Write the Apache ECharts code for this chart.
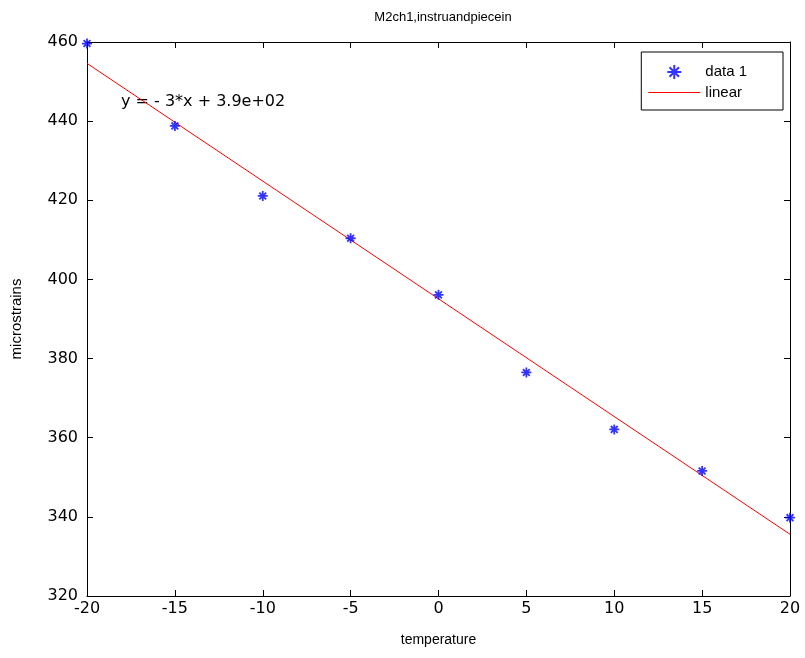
<!DOCTYPE html>
<html>
<head>
<meta charset="utf-8">
<script src="https://cdn.jsdelivr.net/npm/echarts@6/dist/echarts.min.js"></script>
<style>html,body{margin:0;padding:0;background:#fff}#c{width:805px;height:658px}</style>
</head>
<body>
<div id="c"></div>
<script>
var temperature = [-20, -15, -10, -5, 0, 5, 10, 15, 20];
var microstrains = [459.6, 438.8, 421.1, 410.4, 396.1, 376.5, 362.1, 351.6, 339.8];
var fitX = [-20, 20];
var fitY = [454.6, 335.6];
var xTicks = [-20, -15, -10, -5, 0, 5, 10, 15, 20];
var yTicks = [320, 340, 360, 380, 400, 420, 440, 460];
var titleText = 'M2ch1,instruandpiecein';
var eqText = 'y = - 3*x + 3.9e+02';

var FONT = '"Liberation Sans", Arial, sans-serif';
var NUMFONT = '"DejaVu Sans", sans-serif';
var star = 'path://M0 5L10 5M5 0L5 10M1.6 1.6L8.4 8.4M1.6 8.4L8.4 1.6';

var chart = echarts.init(document.getElementById('c'), null, {renderer: 'canvas'});
var axisCommon = {
  axisLine: {show: true, onZero: false, lineStyle: {color: '#000', width: 1}},
  axisTick: {show: true, inside: true, length: 6, lineStyle: {color: '#000'}},
  splitLine: {show: false}
};
function mk(o) { return Object.assign({}, axisCommon, o); }

chart.setOption({
  animation: false,
  backgroundColor: '#fff',
  title: {text: titleText, left: 438, textAlign: 'center', top: 6,
    textStyle: {fontFamily: FONT, fontSize: 13, fontWeight: 'normal', color: '#000'}},
  grid: {left: 87, right: 15, top: 42, bottom: 62, show: false},
  legend: {
    orient: 'vertical', right: 22, top: 52,
    borderColor: '#000', borderWidth: 1, backgroundColor: '#fff',
    padding: [12, 36, 10, 7], itemGap: 5, itemWidth: 52, itemHeight: 14,
    textStyle: {fontFamily: FONT, fontSize: 15, color: '#000'},
    data: [{name: 'data 1'}, {name: 'linear', icon: 'path://M0 0H52V1.2H0Z'}]
  },
  xAxis: [
    mk({type: 'value', min: xTicks[0], max: xTicks[xTicks.length - 1], interval: 5, position: 'bottom',
      name: 'temperature', nameLocation: 'middle', nameGap: 37,
      nameTextStyle: {fontFamily: FONT, fontSize: 14, color: '#000'},
      axisLabel: {fontFamily: NUMFONT, fontSize: 16, color: '#000', margin: 5}}),
    mk({type: 'value', min: xTicks[0], max: xTicks[xTicks.length - 1], interval: 5, position: 'top',
      axisLabel: {show: false}})
  ],
  yAxis: [
    mk({type: 'value', min: yTicks[0], max: yTicks[yTicks.length - 1], interval: 20, position: 'left',
      name: 'microstrains', nameLocation: 'middle', nameGap: 63, nameRotate: 90,
      nameTextStyle: {fontFamily: FONT, fontSize: 15, color: '#000'},
      axisLabel: {fontFamily: NUMFONT, fontSize: 16, color: '#000', margin: 9}}),
    mk({type: 'value', min: yTicks[0], max: yTicks[yTicks.length - 1], interval: 20, position: 'right',
      axisLabel: {show: false}})
  ],
  series: [
    {name: 'linear', type: 'line', data: fitX.map(function (x, i) { return [x, fitY[i]]; }),
      showSymbol: false, symbol: 'none', lineStyle: {color: '#ff0000', width: 1}, itemStyle: {color: '#ff0000'}, z: 2},
    {name: 'data 1', type: 'scatter', data: temperature.map(function (x, i) { return [x, microstrains[i]]; }),
      symbol: star, symbolSize: 10,
      itemStyle: {color: 'rgba(0,0,0,0)', borderColor: '#0000ff', borderWidth: 1.8}, z: 3}
  ],
  graphic: [{type: 'text', left: 121, top: 94,
    style: {text: eqText, fontFamily: NUMFONT, fontSize: 16, fill: '#000'}}]
});
</script>
</body>
</html>
